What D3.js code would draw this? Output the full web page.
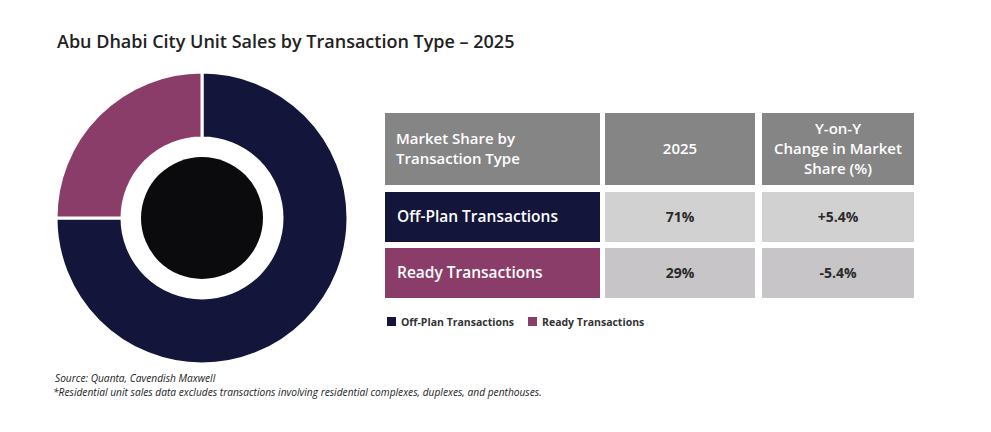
<!DOCTYPE html>
<html lang="en">
<head>
<meta charset="utf-8">
<title>Abu Dhabi City Unit Sales by Transaction Type – 2025</title>
<script src="https://cdn.jsdelivr.net/npm/d3@7"></script>
<style>
  body { margin: 0; background: #fff; }
  text { font-family: "Open Sans", "Noto Sans", sans-serif; }
  .title { font-size: 18px; font-weight: 600; fill: #222; }
  .hdr { font-size: 15px; fill: #fff; font-weight: 600; }
  .rowlbl { font-size: 15.5px; fill: #fff; font-weight: 600; }
  .cell { font-size: 14px; fill: #2a2a2a; font-weight: 700; }
  .legend_text { font-size: 10.5px; fill: #333; font-weight: 700; }
  .note { font-size: 10.2px; fill: #222; font-style: italic; }
</style>
</head>
<body>
<div id="chart"></div>
<script>
// data
var categories = ["Off-Plan Transactions", "Ready Transactions"];
var share2025 = ["71%", "29%"];
var yoyChange = ["+5.4%", "-5.4%"];
// donut slices as drawn in the picture (quarter for Ready)
var donutValues = [75, 25];
var headers = [["Market Share by", "Transaction Type"], ["2025"], ["Y-on-Y", "Change in Market", "Share (%)"]];
var colors = ["#13153a", "#8a3d68"];

var width = 991, height = 432;
var svg = d3.select("#chart").append("svg")
  .attr("width", width).attr("height", height);

svg.append("text").attr("class", "title")
  .attr("x", 57).attr("y", 48)
  .text("Abu Dhabi City Unit Sales by Transaction Type – 2025");

// donut
var cx = 202, cy = 218;
var pie = d3.pie().sort(null).value(function(d) { return d; });
var arc = d3.arc().innerRadius(80).outerRadius(146);
var g = svg.append("g").attr("transform", "translate(" + cx + "," + cy + ")");
g.selectAll("path").data(pie(donutValues)).enter().append("path")
  .attr("d", arc)
  .attr("fill", function(d, i) { return colors[i]; })
  .attr("stroke", "#fff").attr("stroke-width", 3);
g.append("circle").attr("r", 61).attr("fill", "#0b0a0d");

// table
var colX = d3.scaleOrdinal().domain([0, 1, 2]).range([385, 605, 762]);
var colW = [215, 150, 152];
var rowY = [113, 192, 248];
var rowH = [72, 50, 50];
var cellFill = [["#868586", "#868586", "#868586"],
                [colors[0], "#d2d1d2", "#d2d1d2"],
                [colors[1], "#c7c5c7", "#c7c5c7"]];

var table = svg.append("g");
headers.forEach(function(lines, c) {
  table.append("rect").attr("x", colX(c)).attr("y", rowY[0])
    .attr("width", colW[c]).attr("height", rowH[0]).attr("fill", cellFill[0][c]);
  var t = table.append("text").attr("class", "hdr")
    .attr("text-anchor", c === 0 ? "start" : "middle");
  var x = c === 0 ? colX(c) + 11 : colX(c) + colW[c] / 2;
  var lh = 20;
  var y0 = rowY[0] + rowH[0] / 2 - (lines.length - 1) * lh / 2 + 5;
  lines.forEach(function(l, k) {
    t.append("tspan").attr("x", x).attr("y", y0 + k * lh).text(l);
  });
});

categories.forEach(function(cat, r) {
  var vals = [cat, share2025[r], yoyChange[r]];
  vals.forEach(function(v, c) {
    table.append("rect").attr("x", colX(c)).attr("y", rowY[r + 1])
      .attr("width", colW[c]).attr("height", rowH[r + 1]).attr("fill", cellFill[r + 1][c]);
    table.append("text")
      .attr("class", c === 0 ? "rowlbl" : "cell")
      .attr("text-anchor", c === 0 ? "start" : "middle")
      .attr("x", c === 0 ? colX(c) + 12 : colX(c) + colW[c] / 2)
      .attr("y", rowY[r + 1] + rowH[r + 1] / 2 + 5)
      .text(v);
  });
});

// legend
var legX = [387, 528];
categories.forEach(function(cat, i) {
  svg.append("rect").attr("x", legX[i]).attr("y", 317)
    .attr("width", 9).attr("height", 9).attr("fill", colors[i]);
  svg.append("text").attr("class", "legend_text")
    .attr("x", legX[i] + 14).attr("y", 325.5).text(cat);
});

// notes
svg.append("text").attr("class", "note").attr("x", 55).attr("y", 382)
  .text("Source: Quanta, Cavendish Maxwell");
svg.append("text").attr("class", "note").attr("x", 53).attr("y", 396)
  .text("*Residential unit sales data excludes transactions involving residential complexes, duplexes, and penthouses.");
</script>
</body>
</html>
